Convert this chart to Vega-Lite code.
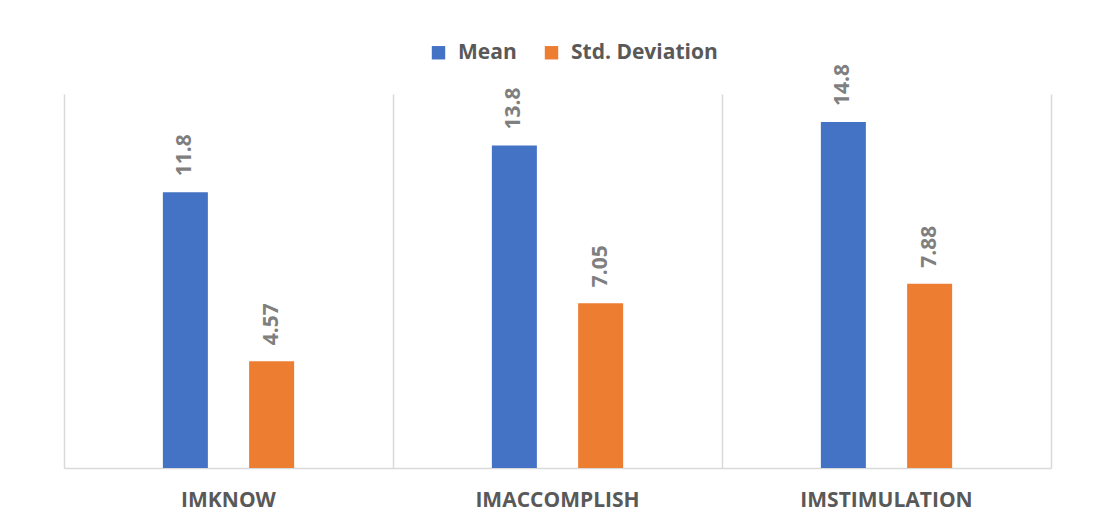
{
  "$schema": "https://vega.github.io/schema/vega-lite/v6.json",
  "width": 987,
  "height": 374,
  "autosize": {"type": "none"},
  "padding": {"left": 64, "top": 94, "right": 68, "bottom": 46},
  "config": {"view": {"stroke": null}, "font": "Open Sans"},
  "data": {
    "values": [
      {"variable": "IMKNOW", "stat": "Mean", "value": 11.8, "label": "11.8"},
      {"variable": "IMKNOW", "stat": "Std. Deviation", "value": 4.57, "label": "4.57"},
      {"variable": "IMACCOMPLISH", "stat": "Mean", "value": 13.8, "label": "13.8"},
      {"variable": "IMACCOMPLISH", "stat": "Std. Deviation", "value": 7.05, "label": "7.05"},
      {"variable": "IMSTIMULATION", "stat": "Mean", "value": 14.8, "label": "14.8"},
      {"variable": "IMSTIMULATION", "stat": "Std. Deviation", "value": 7.88, "label": "7.88"}
    ]
  },
  "encoding": {
    "x": {
      "field": "variable",
      "type": "nominal",
      "sort": ["IMKNOW", "IMACCOMPLISH", "IMSTIMULATION"],
      "scale": {"paddingInner": 0, "paddingOuter": 0},
      "axis": {
        "title": null,
        "labelAngle": 0,
        "labelFontSize": 21,
        "labelFontWeight": "bold",
        "labelColor": "#595959",
        "labelPadding": 21,
        "ticks": false,
        "domainColor": "#d9d9d9",
        "domainWidth": 1.5,
        "grid": true,
        "gridColor": "#d9d9d9",
        "gridWidth": 1.5,
        "bandPosition": 0
      }
    },
    "xOffset": {
      "field": "stat",
      "type": "nominal",
      "sort": ["Mean", "Std. Deviation"],
      "scale": {"paddingInner": 0, "paddingOuter": 0.907}
    },
    "y": {
      "field": "value",
      "type": "quantitative",
      "scale": {"domain": [0, 16]},
      "axis": {
        "orient": "right",
        "title": null,
        "labels": false,
        "ticks": false,
        "grid": false,
        "domainColor": "#d9d9d9",
        "domainWidth": 1.5
      }
    }
  },
  "layer": [
    {
      "mark": {"type": "bar", "width": 45},
      "encoding": {
        "color": {
          "field": "stat",
          "type": "nominal",
          "sort": ["Mean", "Std. Deviation"],
          "scale": {"domain": ["Mean", "Std. Deviation"], "range": ["#4472C4", "#ED7D31"]},
          "legend": {
            "title": null,
            "orient": "none",
            "direction": "horizontal",
            "legendX": 364,
            "legendY": -52,
            "symbolType": "square",
            "symbolSize": 180,
            "symbolStrokeWidth": 0,
            "symbolOpacity": 1,
            "labelFontSize": 21,
            "labelFontWeight": "bold",
            "labelColor": "#595959",
            "labelOffset": 9,
            "columnPadding": 24
          }
        }
      }
    },
    {
      "mark": {
        "type": "text",
        "angle": 270,
        "align": "left",
        "baseline": "middle",
        "dx": 16,
        "fontSize": 21,
        "fontWeight": "bold",
        "color": "#7F7F7F"
      },
      "encoding": {"text": {"field": "label", "type": "nominal"}}
    }
  ]
}
